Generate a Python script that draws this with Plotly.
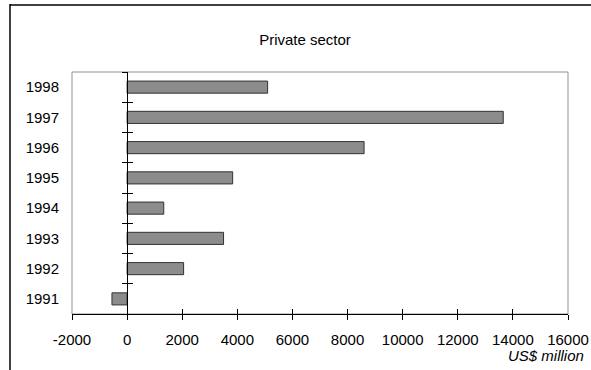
import plotly.graph_objects as go

# Private sector flows by year, US$ million
years = ["1991", "1992", "1993", "1994", "1995", "1996", "1997", "1998"]
values = [-550, 2050, 3500, 1330, 3830, 8600, 13650, 5100]
x_ticks = [-2000, 0, 2000, 4000, 6000, 8000, 10000, 12000, 14000, 16000]
x_tick_labels = [str(v) for v in x_ticks]

W, H = 591, 370
ML, MR, MT, MB = 72, 23, 72, 56
PW, PH = W - ML - MR, H - MT - MB
XMIN, XMAX = x_ticks[0], x_ticks[-1]
FONT = "Liberation Sans, Arial, sans-serif"


def px_x(p):
    return (p - ML) / PW


def px_y(p):
    return (H - MB - p) / PH


fig = go.Figure()
fig.add_trace(go.Bar(
    y=years, x=values, orientation="h", width=0.4,
    marker=dict(color="#8c8c8c", line=dict(color="#333333", width=1)),
    showlegend=False, hoverinfo="skip",
))
# empty traces so the overlay axes (crossing ticks, zero line) get drawn
for xa, ya in (("x2", "y"), ("x", "y2"), ("x", "y3")):
    fig.add_trace(go.Scatter(x=[], y=[], xaxis=xa, yaxis=ya, mode="markers",
                             showlegend=False, hoverinfo="skip"))

zero_pos = (0 - XMIN) / (XMAX - XMIN)
n = len(years)
common_y = dict(overlaying="y", anchor="free", position=zero_pos,
                range=[-0.5, n - 0.5], tick0=-0.5, dtick=1,
                showline=True, linecolor="black", linewidth=1,
                ticklen=5, tickcolor="black", tickwidth=1, automargin=False,
                showticklabels=False, showgrid=False, zeroline=False)

fig.update_layout(
    width=W, height=H,
    margin=dict(l=ML, r=MR, t=MT, b=MB, pad=0, autoexpand=False),
    paper_bgcolor="white", plot_bgcolor="white",
    font=dict(family=FONT, size=15, color="black"),
    bargap=0.6,
    title=dict(text="Private sector", x=305 / W, xref="container", xanchor="center",
               y=1 - 40 / H, yref="container", yanchor="middle", font=dict(size=15)),
    xaxis=dict(range=[XMIN, XMAX], tickvals=x_ticks, ticktext=x_tick_labels,
               showline=True, linecolor="black", linewidth=1,
               ticks="outside", ticklen=5, tickcolor="black", tickwidth=1,
               showgrid=False, zeroline=False, ticklabelstandoff=7, automargin=False),
    xaxis2=dict(overlaying="x", anchor="y", range=[XMIN, XMAX], tickvals=x_ticks,
                ticks="inside", ticklen=5, tickcolor="black", tickwidth=1, automargin=False,
                showticklabels=False, showline=False, showgrid=False, zeroline=False),
    yaxis=dict(type="category", categoryorder="array", categoryarray=years,
               range=[-0.5, n - 0.5], showline=False, ticks="", automargin=False,
               showgrid=False, zeroline=False, ticklabelstandoff=12),
    yaxis2=dict(ticks="outside", **common_y),
    yaxis3=dict(ticks="inside", **common_y),
    shapes=[
        # plot-area frame
        dict(type="rect", xref="x domain", yref="y domain", x0=0, x1=1, y0=0, y1=1,
             line=dict(color="#8f8f8f", width=1), layer="below"),
        # outer page rules
        dict(type="line", xref="paper", yref="paper",
             x0=px_x(10), x1=px_x(10), y0=px_y(4), y1=px_y(H + 5),
             line=dict(color="black", width=1.5)),
        dict(type="line", xref="paper", yref="paper",
             x0=px_x(10), x1=px_x(W + 5), y0=px_y(5), y1=px_y(5),
             line=dict(color="black", width=1.5)),
    ],
    annotations=[
        dict(text="US$ million", xref="paper", yref="paper",
             x=px_x(586), y=px_y(355), xanchor="right", yanchor="middle",
             showarrow=False, font=dict(size=15, style="italic")),
    ],
)

fig.write_html("out.html")
